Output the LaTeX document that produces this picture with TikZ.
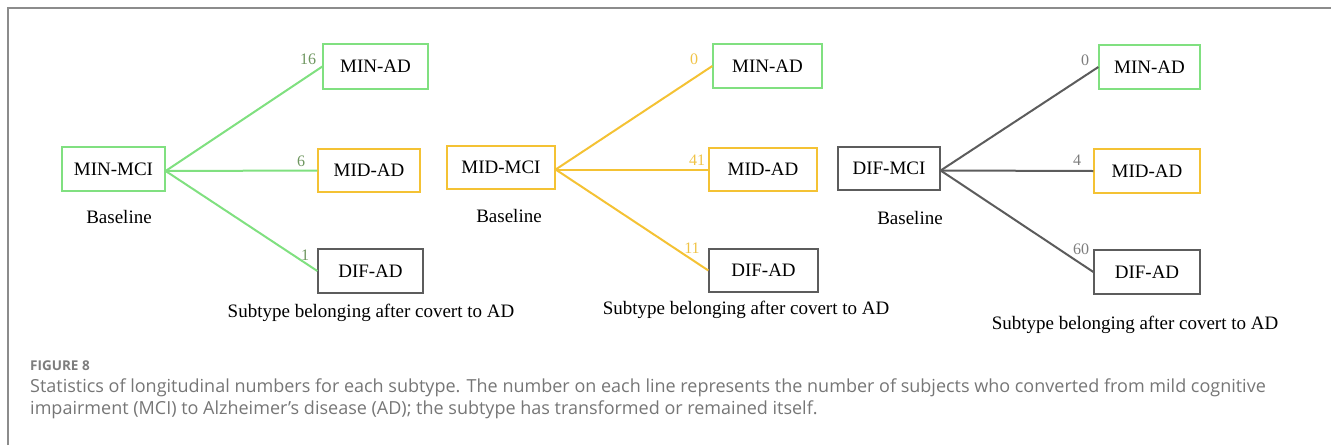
\documentclass[tikz,border=0pt]{standalone}
\usepackage{fontspec}
\setmainfont{Liberation Serif}
\newfontfamily\capfont{Open Sans}
\definecolor{mingreen}{RGB}{128,224,128}
\definecolor{midyellow}{RGB}{244,194,52}
\definecolor{difgray}{RGB}{92,92,92}
\definecolor{numgreen}{RGB}{110,150,95}
\definecolor{numyellow}{RGB}{240,195,70}
\definecolor{numgray}{RGB}{125,125,125}
\definecolor{framegray}{RGB}{140,140,140}
\definecolor{captext}{RGB}{118,118,118}
\tikzset{
  box/.style={draw, line width=1.3pt, inner sep=0pt, text=black, font=\fontsize{19}{22}\selectfont},
  greenbox/.style={box, draw=mingreen},
  yellowbox/.style={box, draw=midyellow},
  graybox/.style={box, draw=difgray},
  link/.style={line width=2pt},
  num/.style={inner sep=0pt, font=\fontsize{16}{18}\selectfont},
  lbl/.style={inner sep=0pt, font=\fontsize{19}{22}\selectfont},
  captionline/.style={inner sep=0pt, anchor=west, text=captext, font=\capfont\fontsize{18}{20}\selectfont},
  figlbl/.style={inner sep=0pt, anchor=west, text=numgray, font=\capfont\bfseries\fontsize{13.5}{15}\selectfont},
}
\begin{document}
\begin{tikzpicture}[x=1pt,y=-1pt]
\useasboundingbox (0,0) rectangle (1331,445);
\coordinate (fbl) at (8,445);
\coordinate (ftl) at (8,8);
\coordinate (ftr) at (1331,8);
\draw[framegray, line width=1.2pt] (fbl) -- (ftl) -- (ftr);

% Panel 1
\node[greenbox, minimum width=103pt, minimum height=44pt] (mci1) at (113.5,169) {MIN-MCI};
\node[greenbox, minimum width=105pt, minimum height=45pt] (minad1) at (375.5,66.5) {MIN-AD};
\node[yellowbox, minimum width=102pt, minimum height=43pt] (midad1) at (369,170.5) {MID-AD};
\node[graybox, minimum width=105pt, minimum height=44pt] (difad1) at (370.5,271) {DIF-AD};
\coordinate (s1) at ([yshift=-2pt]mci1.east);
\draw[link, mingreen] (s1) -- (minad1.west);
\draw[link, mingreen] (s1) -- (midad1.west);
\draw[link, mingreen] (s1) -- (difad1.west);
\node[num, text=numgreen] (n11) at (308,59) {16};
\node[num, text=numgreen] (n12) at (301,161) {6};
\node[num, text=numgreen] (n13) at (305,255) {1};
\node[lbl] (base1) at (119,217) {Baseline};
\node[lbl] (sub1) at (371,313) {Subtype belonging after covert to AD};

% Panel 2
\node[yellowbox, minimum width=108pt, minimum height=43pt] (mci2) at (501,167.5) {MID-MCI};
\node[greenbox, minimum width=109pt, minimum height=44pt] (minad2) at (767.5,66) {MIN-AD};
\node[yellowbox, minimum width=108pt, minimum height=43pt] (midad2) at (763,169.5) {MID-AD};
\node[graybox, minimum width=109pt, minimum height=43pt] (difad2) at (763.5,270.5) {DIF-AD};
\coordinate (s2) at ([yshift=-2pt]mci2.east);
\draw[link, midyellow] (s2) -- (minad2.west);
\draw[link, midyellow] (s2) -- (midad2.west);
\draw[link, midyellow] (s2) -- (difad2.west);
\node[num, text=numyellow] (n21) at (694,59) {0};
\node[num, text=numyellow] (n22) at (697,160) {41};
\node[num, text=numyellow] (n23) at (692,248) {11};
\node[lbl] (base2) at (509,216) {Baseline};
\node[lbl] (sub2) at (746,310) {Subtype belonging after covert to AD};

% Panel 3
\node[graybox, minimum width=102pt, minimum height=43pt] (mci3) at (889,168.5) {DIF-MCI};
\node[greenbox, minimum width=101pt, minimum height=44pt] (minad3) at (1149.5,67) {MIN-AD};
\node[yellowbox, minimum width=106pt, minimum height=44pt] (midad3) at (1147,171) {MID-AD};
\node[graybox, minimum width=106pt, minimum height=44pt] (difad3) at (1147,272) {DIF-AD};
\coordinate (s3) at ([yshift=-2pt]mci3.east);
\draw[link, difgray] (s3) -- (minad3.west);
\draw[link, difgray] (s3) -- (midad3.west);
\draw[link, difgray] (s3) -- (difad3.west);
\node[num, text=numgray] (n31) at (1085,60) {0};
\node[num, text=numgray] (n32) at (1077,160) {4};
\node[num, text=numgray] (n33) at (1081,249) {60};
\node[lbl] (base3) at (910,218) {Baseline};
\node[lbl] (sub3) at (1135,325) {Subtype belonging after covert to AD};

% Caption
\node[figlbl] (figlabel) at (30,366) {FIGURE 8};
\node[captionline] (cap1) at (30,388) {Statistics of longitudinal numbers for each subtype. The number on each line represents the number of subjects who converted from mild cognitive};
\node[captionline] (cap2) at (30,410) {impairment (MCI) to Alzheimer’s disease (AD); the subtype has transformed or remained itself.};
\end{tikzpicture}
\end{document}
